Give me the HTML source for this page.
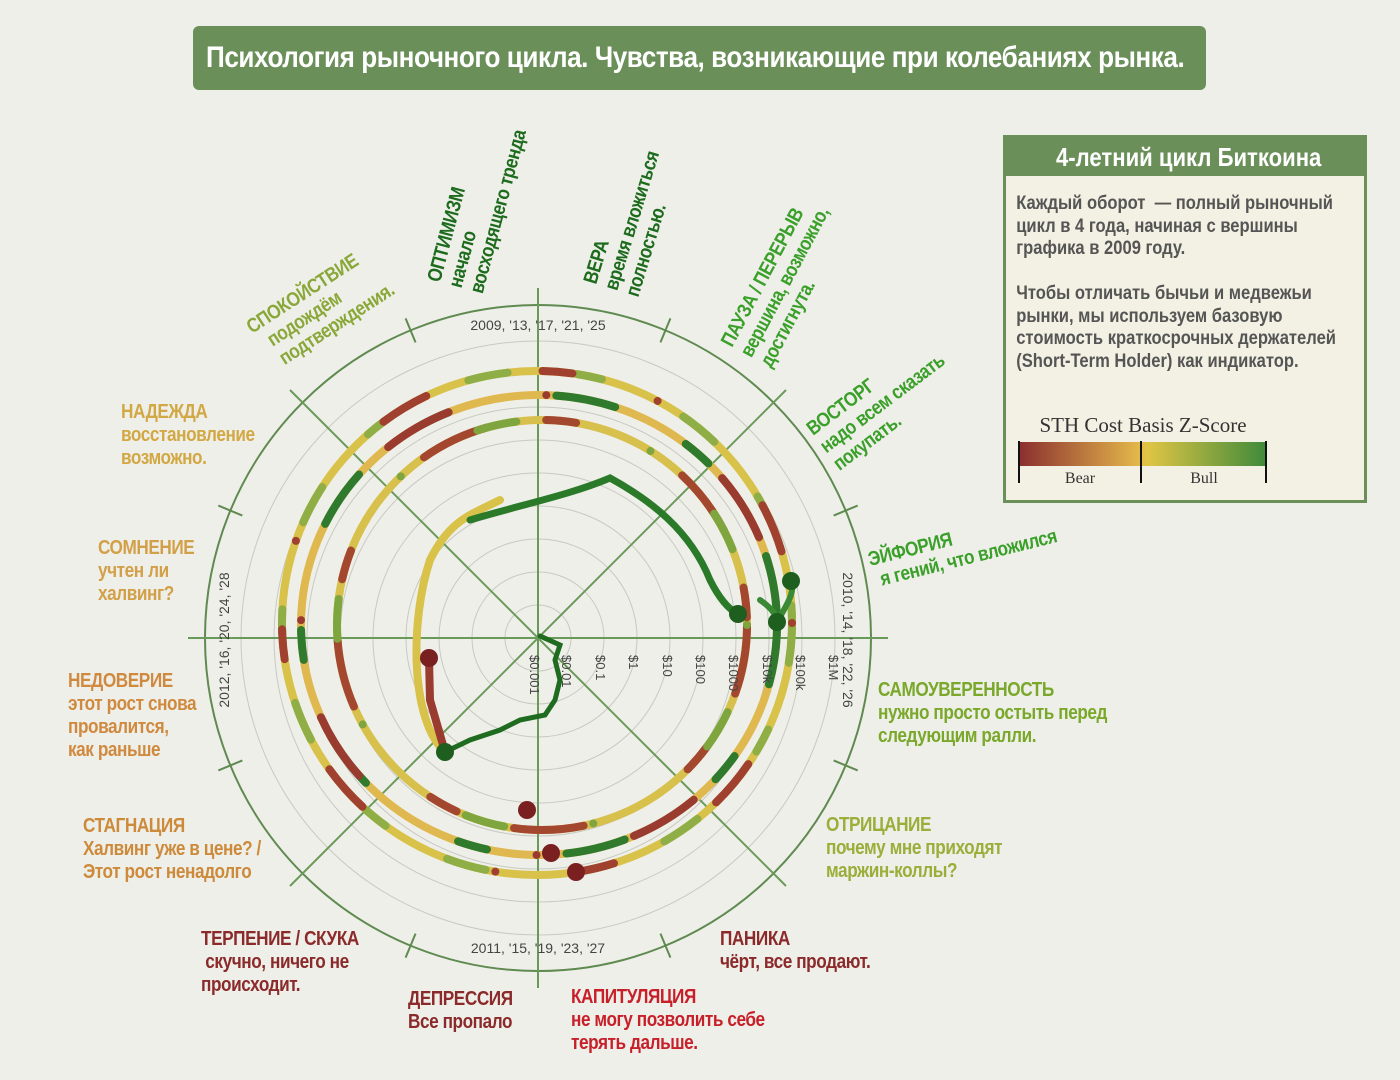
<!DOCTYPE html>
<html><head><meta charset="utf-8">
<style>
html,body{margin:0;padding:0;background:#efefe9;}
body{width:1400px;height:1080px;position:relative;overflow:hidden;font-family:"Liberation Sans Narrow","Liberation Sans",sans-serif;}
.title{position:absolute;left:193px;top:26px;width:1013px;height:64px;background:#6a8f58;border-radius:6px;overflow:hidden;}
.title span{position:absolute;left:13px;top:0;white-space:nowrap;color:#fff;font-weight:bold;font-size:30px;line-height:64px;transform:scaleX(0.87);transform-origin:left center;letter-spacing:-0.5px;}
.box{position:absolute;left:1003px;top:135px;width:358px;height:362px;background:#f2f1e3;border:3px solid #6a8f58;overflow:hidden;}
.box .hd{background:#6a8f58;height:38px;position:relative;}
.box .hd span{position:absolute;left:50px;top:0;white-space:nowrap;color:#fff;font-weight:bold;font-size:26px;line-height:38px;transform:scaleX(0.85);transform-origin:left center;}
.box .tx{width:385px;padding:16px 0 0 12px;color:#555;font-weight:bold;font-size:19.5px;line-height:22.5px;transform:scaleX(0.85);transform-origin:left top;}
svg{position:absolute;left:0;top:0;}
</style></head><body>
<div class="title"><span>Психология рыночного цикла. Чувства, возникающие при колебаниях рынка.</span></div>
<div class="box"><div class="hd"><span>4-летний цикл Биткоина</span></div>
<div class="tx">Каждый оборот&nbsp; — полный рыночный цикл в 4 года, начиная с вершины графика в 2009 году.<br><br>Чтобы отличать бычьи и медвежьи рынки, мы используем базовую стоимость краткосрочных держателей (Short-Term Holder) как индикатор.</div></div>
<svg width="1400" height="1080" viewBox="0 0 1400 1080">
<defs>
<linearGradient id="lg" x1="0" x2="1"><stop offset="0" stop-color="#8a2f2f"/><stop offset="0.48" stop-color="#e3b64a"/><stop offset="0.52" stop-color="#e0c545"/><stop offset="1" stop-color="#3f8a3a"/></linearGradient>
</defs>
<text x="1143" y="432" font-family="Liberation Serif" font-size="21" fill="#333" text-anchor="middle">STH Cost Basis Z-Score</text>
<rect x="1019" y="442" width="247" height="24" fill="url(#lg)"/>
<g stroke="#111" stroke-width="2"><line x1="1019" y1="441" x2="1019" y2="483"/><line x1="1141" y1="441" x2="1141" y2="483"/><line x1="1266" y1="441" x2="1266" y2="483"/></g>
<text x="1080" y="483" font-family="Liberation Serif" font-size="16" fill="#333" text-anchor="middle">Bear</text>
<text x="1204" y="483" font-family="Liberation Serif" font-size="16" fill="#333" text-anchor="middle">Bull</text>

<g fill="none" stroke="#c9c9c3" stroke-width="1">
<circle cx="538" cy="638" r="33"/><circle cx="538" cy="638" r="66"/><circle cx="538" cy="638" r="99"/><circle cx="538" cy="638" r="132"/><circle cx="538" cy="638" r="165"/><circle cx="538" cy="638" r="198"/><circle cx="538" cy="638" r="231"/><circle cx="538" cy="638" r="264"/><circle cx="538" cy="638" r="297"/>
</g>
<circle cx="538" cy="638" r="333" fill="none" stroke="#5f8a50" stroke-width="2"/>
<g stroke="#6a9a5a" stroke-width="2">
<line x1="188" y1="638" x2="888" y2="638"/><line x1="538" y1="288" x2="538" y2="988"/>
<line x1="290" y1="390" x2="786" y2="886"/><line x1="786" y1="390" x2="290" y2="886"/>
</g>
<g stroke="#5f8a50" stroke-width="2" transform="translate(538 638)">
<line x1="0" y1="-320" x2="0" y2="-346" transform="rotate(22.5)"/><line x1="0" y1="-320" x2="0" y2="-346" transform="rotate(67.5)"/><line x1="0" y1="-320" x2="0" y2="-346" transform="rotate(112.5)"/><line x1="0" y1="-320" x2="0" y2="-346" transform="rotate(157.5)"/><line x1="0" y1="-320" x2="0" y2="-346" transform="rotate(202.5)"/><line x1="0" y1="-320" x2="0" y2="-346" transform="rotate(247.5)"/><line x1="0" y1="-320" x2="0" y2="-346" transform="rotate(292.5)"/><line x1="0" y1="-320" x2="0" y2="-346" transform="rotate(337.5)"/>
</g>

<g fill="none" stroke-width="8" stroke-linecap="round">
<ellipse cx="537" cy="623" rx="255" ry="252" stroke="#d8c24a"/>
<ellipse cx="537" cy="623" rx="255" ry="252" stroke="#8fae45" stroke-dasharray="40 70 25 90"/>
<ellipse cx="537" cy="623" rx="255" ry="252" stroke="#a0402f" stroke-dasharray="0 150 50 120 30 90" />
<ellipse cx="539" cy="625" rx="238" ry="230" stroke="#e0b850"/>
<ellipse cx="539" cy="625" rx="238" ry="230" stroke="#2f7a2c" stroke-dasharray="60 80 30 110"/>
<ellipse cx="539" cy="625" rx="238" ry="230" stroke="#9a3b30" stroke-dasharray="0 200 70 100"/>
<ellipse cx="542" cy="625" rx="205" ry="205" stroke="#d7c04c"/>
<ellipse cx="542" cy="625" rx="205" ry="205" stroke="#a4472f" stroke-dasharray="70 60 30 120"/>
<ellipse cx="542" cy="625" rx="205" ry="205" stroke="#7fa63e" stroke-dasharray="0 90 40 140"/>
<path d="M445,752 C410,720 410,620 430,560 C450,520 470,515 500,500" stroke="#d9c24a"/>
<path d="M429,658 L430,700 L445,752" stroke="#9a3b30"/>
<path d="M470,520 C520,505 570,495 610,478 C650,500 690,530 710,580 C720,600 730,610 738,614" stroke="#2a7a2a" stroke-width="7"/>
<path d="M445,752 L470,740 L500,730 L520,720 L545,715 L555,700 L560,680 L555,660 L560,645 L540,636" stroke="#1f6b1f" stroke-width="5"/>
<path d="M760,600 C775,610 778,620 777,622 C790,600 795,590 791,581" stroke="#3a8a35" stroke-width="6"/>
</g>
<g>
<circle cx="791" cy="581" r="9" fill="#1e5e1e"/><circle cx="738" cy="614" r="9" fill="#1e5e1e"/><circle cx="777" cy="622" r="9" fill="#1e5e1e"/><circle cx="445" cy="752" r="9" fill="#1e5e1e"/>
<circle cx="429" cy="658" r="9" fill="#7a2020"/><circle cx="527" cy="810" r="9" fill="#7a2020"/><circle cx="551" cy="853" r="9" fill="#7a2020"/><circle cx="576" cy="872" r="9" fill="#7a2020"/>
</g>

<g font-family="Liberation Sans" font-size="14" fill="#444" text-anchor="middle">
<text x="538" y="330">2009, '13, '17, '21, '25</text>
<text x="538" y="953">2011, '15, '19, '23, '27</text>
<text transform="translate(843 640) rotate(90)">2010, '14, '18, '22, '26</text>
<text transform="translate(229 640) rotate(-90)">2012, '16, '20, '24, '28</text>
</g>
<g font-family="Liberation Sans" font-size="13" fill="#444">
<text transform="translate(530 655) rotate(90)">$0.001</text>
<text transform="translate(562 655) rotate(90)">$0.01</text>
<text transform="translate(596 655) rotate(90)">$0.1</text>
<text transform="translate(629 655) rotate(90)">$1</text>
<text transform="translate(663 655) rotate(90)">$10</text>
<text transform="translate(696 655) rotate(90)">$100</text>
<text transform="translate(729 655) rotate(90)">$1000</text>
<text transform="translate(763 655) rotate(90)">$10k</text>
<text transform="translate(796 655) rotate(90)">$100k</text>
<text transform="translate(829 655) rotate(90)">$1M</text>
</g>

<g font-weight="bold" font-size="20" letter-spacing="-0.5">
<text transform="translate(440 283) rotate(-75) scale(0.86 1)" fill="#1d6b1d">ОПТИМИЗМ<tspan x="0" dy="22">начало</tspan><tspan x="0" dy="22">восходящего тренда</tspan></text>
<text transform="translate(596 285) rotate(-73) scale(0.86 1)" fill="#1d6b1d">ВЕРА<tspan x="0" dy="22">время вложиться</tspan><tspan x="0" dy="22">полностью.</tspan></text>
<text transform="translate(732 348) rotate(-62) scale(0.86 1)" fill="#3aa02a">ПАУЗА / ПЕРЕРЫВ<tspan x="0" dy="22">вершина, возможно,</tspan><tspan x="0" dy="22">достигнута.</tspan></text>
<text transform="translate(813 436) rotate(-37) scale(0.86 1)" fill="#3aa02a">ВОСТОРГ<tspan x="0" dy="22">надо всем сказать</tspan><tspan x="0" dy="22">покупать.</tspan></text>
<text transform="translate(870 566) rotate(-14) scale(0.86 1)" fill="#3aa02a">ЭЙФОРИЯ<tspan x="8" dy="22">я гений, что вложился</tspan></text>
<text transform="translate(252 334) rotate(-33) scale(0.86 1)" fill="#8aa83a">СПОКОЙСТВИЕ<tspan x="12" dy="22">подождём</tspan><tspan x="12" dy="22">подтверждения.</tspan></text>
<text transform="translate(121 418) scale(0.86 1)" fill="#d2a845">НАДЕЖДА<tspan x="0" dy="23">восстановление</tspan><tspan x="0" dy="23">возможно.</tspan></text>
<text transform="translate(98 554) scale(0.86 1)" fill="#d2a048">СОМНЕНИЕ<tspan x="0" dy="23">учтен ли</tspan><tspan x="0" dy="23">халвинг?</tspan></text>
<text transform="translate(68 687) scale(0.86 1)" fill="#d08a40">НЕДОВЕРИЕ<tspan x="0" dy="23">этот рост снова</tspan><tspan x="0" dy="23">провалится,</tspan><tspan x="0" dy="23">как раньше</tspan></text>
<text transform="translate(83 832) scale(0.86 1)" fill="#cc8a3a">СТАГНАЦИЯ<tspan x="0" dy="23">Халвинг уже в цене? /</tspan><tspan x="0" dy="23">Этот рост ненадолго</tspan></text>
<text transform="translate(201 945) scale(0.86 1)" fill="#8b2a2a">ТЕРПЕНИЕ / СКУКА<tspan x="5" dy="23">скучно, ничего не</tspan><tspan x="0" dy="23">происходит.</tspan></text>
<text transform="translate(408 1005) scale(0.86 1)" fill="#8b2a2a">ДЕПРЕССИЯ<tspan x="0" dy="23">Все пропало</tspan></text>
<text transform="translate(571 1003) scale(0.86 1)" fill="#c8202a">КАПИТУЛЯЦИЯ<tspan x="0" dy="23">не могу позволить себе</tspan><tspan x="0" dy="23">терять дальше.</tspan></text>
<text transform="translate(720 945) scale(0.86 1)" fill="#8b2a2a">ПАНИКА<tspan x="0" dy="23">чёрт, все продают.</tspan></text>
<text transform="translate(826 831) scale(0.86 1)" fill="#9aae3a">ОТРИЦАНИЕ<tspan x="0" dy="23">почему мне приходят</tspan><tspan x="0" dy="23">маржин-коллы?</tspan></text>
<text transform="translate(878 696) scale(0.86 1)" fill="#7aa82a">САМОУВЕРЕННОСТЬ<tspan x="0" dy="23">нужно просто остыть перед</tspan><tspan x="0" dy="23">следующим ралли.</tspan></text>
</g>
</svg>
</body></html>
